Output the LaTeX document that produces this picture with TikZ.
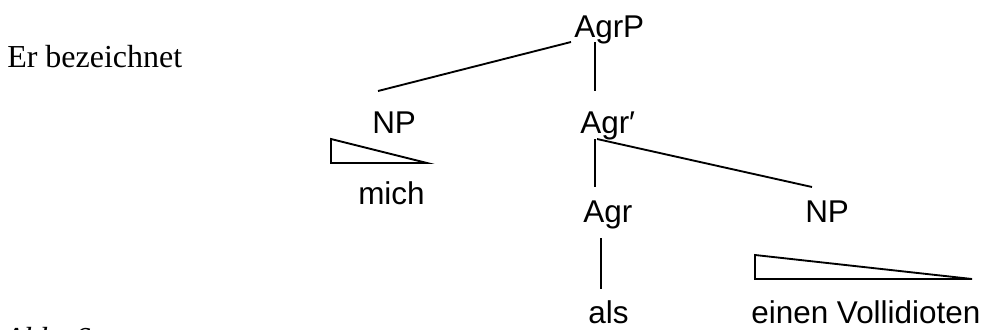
\documentclass[tikz,border=0pt]{standalone}
\usepackage{fontspec}
\setmainfont{Liberation Serif}
\newfontfamily\treefont{Liberation Sans}
\begin{document}
\begin{tikzpicture}[x=0.75pt,y=-0.75pt,
  lbl/.style={inner sep=0pt,anchor=base west,font=\treefont\fontsize{23.6}{28}\selectfont},
  serif/.style={inner sep=0pt,anchor=base west,font=\fontsize{24}{28}\selectfont},
  branch/.style={line width=1.4pt},
  tri/.style={line width=1.4pt,line join=miter}]
\useasboundingbox (0,0) rectangle (984,329);
\clip (0,0) rectangle (984,329);
% texts
\node[serif] (er) at (7,67) {Er bezeichnet};
\node[serif,font=\itshape\fontsize{24}{28}\selectfont] (abb) at (4,349) {Abb. 6};
\node[lbl] (agrp) at (574,37) {AgrP};
\node[lbl] (npl) at (372,133) {NP};
\node[lbl] (agrbar) at (580,133) {Agr′};
\node[lbl] (mich) at (358,204) {mich};
\node[lbl] (agr) at (583,222) {Agr};
\node[lbl] (npr) at (805,222) {NP};
\node[lbl] (als) at (588,323) {als};
\node[lbl] (vol) at (751,323) {einen Vollidioten};
% connector ends
\coordinate (agrpL) at (571,42);
\coordinate (agrpD) at (595,42);
\coordinate (nplT) at (378,91);
\coordinate (agrbarT) at (595,91);
\coordinate (agrbarD) at (595,139);
\coordinate (agrbarR) at (597,139);
\coordinate (agrT) at (595,187);
\coordinate (nprT) at (812,187);
\coordinate (agrD) at (601,238);
\coordinate (alsT) at (601,289);
% triangles
\coordinate (tl1) at (331,139);
\coordinate (tl2) at (331,163);
\coordinate (tl3) at (427,163);
\coordinate (tr1) at (755,255);
\coordinate (tr2) at (755,279);
\coordinate (tr3) at (972,279);
% branches
\draw[branch] (agrpL) -- (nplT);
\draw[branch] (agrpD) -- (agrbarT);
\draw[branch] (agrbarD) -- (agrT);
\draw[branch] (agrbarR) -- (nprT);
\draw[branch] (agrD) -- (alsT);
\draw[tri] (tl1) -- (tl2) -- (tl3) -- cycle;
\draw[tri] (tr1) -- (tr2) -- (tr3) -- cycle;
\end{tikzpicture}
\end{document}
